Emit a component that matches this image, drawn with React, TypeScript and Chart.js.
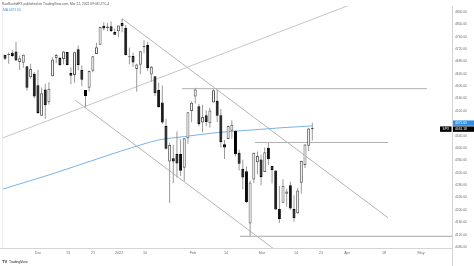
import React, { useEffect, useRef } from "react";
import { Chart, registerables } from "chart.js";

Chart.register(...registerables);

const W = 474;
const H = 266;

// Trading days, Nov 16 2021 .. Mar 21 2022 (index 0 = Jan 3 2022)
const FIRST_INDEX = -32;
const dates = [
  "2021-11-16", "2021-11-17", "2021-11-18", "2021-11-19", "2021-11-22", "2021-11-23", "2021-11-24", "2021-11-26", "2021-11-29", "2021-11-30",
  "2021-12-01", "2021-12-02", "2021-12-03", "2021-12-06", "2021-12-07", "2021-12-08", "2021-12-09", "2021-12-10", "2021-12-13", "2021-12-14",
  "2021-12-15", "2021-12-16", "2021-12-17", "2021-12-20", "2021-12-21", "2021-12-22", "2021-12-23", "2021-12-27", "2021-12-28", "2021-12-29",
  "2021-12-30", "2021-12-31", "2022-01-03", "2022-01-04", "2022-01-05", "2022-01-06", "2022-01-07", "2022-01-10", "2022-01-11", "2022-01-12",
  "2022-01-13", "2022-01-14", "2022-01-18", "2022-01-19", "2022-01-20", "2022-01-21", "2022-01-24", "2022-01-25", "2022-01-26", "2022-01-27",
  "2022-01-28", "2022-01-31", "2022-02-01", "2022-02-02", "2022-02-03", "2022-02-04", "2022-02-07", "2022-02-08", "2022-02-09", "2022-02-10",
  "2022-02-11", "2022-02-14", "2022-02-15", "2022-02-16", "2022-02-17", "2022-02-18", "2022-02-22", "2022-02-23", "2022-02-24", "2022-02-25",
  "2022-02-28", "2022-03-01", "2022-03-02", "2022-03-03", "2022-03-04", "2022-03-07", "2022-03-08", "2022-03-09", "2022-03-10", "2022-03-11",
  "2022-03-14", "2022-03-15", "2022-03-16", "2022-03-17", "2022-03-18", "2022-03-21",
];
const opens = [
  4679.42, 4701.5, 4700.72, 4708.44, 4712.0, 4678.48, 4675.78, 4664.63, 4628.75, 4640.25,
  4602.82, 4504.73, 4589.49, 4548.37, 4631.97, 4690.86, 4691.0, 4687.64, 4710.3, 4642.99,
  4636.46, 4719.13, 4652.5, 4587.9, 4594.96, 4650.36, 4703.96, 4733.99, 4795.49, 4788.64,
  4794.23, 4775.21, 4778.14, 4804.51, 4787.99, 4693.39, 4697.66, 4655.34, 4669.14, 4728.59,
  4733.56, 4637.99, 4632.24, 4588.03, 4547.35, 4471.38, 4356.32, 4366.64, 4380.58, 4380.5,
  4336.19, 4431.79, 4519.57, 4566.39, 4535.41, 4482.79, 4505.75, 4480.02, 4547.0, 4553.24,
  4506.27, 4412.61, 4429.28, 4455.75, 4456.06, 4384.57, 4332.74, 4324.93, 4155.77, 4298.38,
  4354.17, 4363.14, 4322.56, 4401.31, 4342.12, 4327.01, 4202.66, 4223.1, 4252.55, 4279.5,
  4202.75, 4188.82, 4288.14, 4345.11, 4407.34, 4462.4,
];
const highs = [
  4714.95, 4701.5, 4708.8, 4717.75, 4743.83, 4699.39, 4702.87, 4664.63, 4672.95, 4646.02,
  4652.94, 4595.46, 4608.03, 4612.6, 4694.04, 4705.06, 4695.26, 4713.57, 4710.3, 4660.47,
  4712.6, 4731.99, 4666.7, 4587.9, 4651.14, 4697.67, 4740.74, 4791.49, 4807.02, 4804.06,
  4808.93, 4786.83, 4796.64, 4818.62, 4797.7, 4725.01, 4707.95, 4673.02, 4714.13, 4748.83,
  4744.13, 4665.13, 4632.24, 4611.55, 4602.11, 4494.52, 4417.35, 4411.01, 4453.23, 4428.74,
  4432.72, 4516.89, 4550.49, 4595.31, 4542.88, 4539.66, 4521.86, 4531.32, 4590.03, 4588.92,
  4526.33, 4426.22, 4472.77, 4489.55, 4456.06, 4394.6, 4362.12, 4341.51, 4294.73, 4385.34,
  4388.84, 4378.45, 4401.48, 4416.78, 4342.12, 4327.01, 4276.94, 4299.4, 4268.28, 4291.01,
  4247.57, 4271.05, 4358.9, 4412.67, 4465.4, 4481.75,
];
const lows = [
  4679.42, 4684.41, 4672.78, 4694.22, 4682.17, 4652.66, 4659.89, 4585.43, 4625.26, 4560.0,
  4510.27, 4504.73, 4495.12, 4540.51, 4631.97, 4674.52, 4665.98, 4670.24, 4667.6, 4606.52,
  4611.22, 4651.89, 4600.22, 4531.1, 4583.16, 4645.53, 4703.96, 4733.99, 4780.04, 4778.08,
  4775.33, 4765.75, 4758.17, 4774.27, 4699.44, 4671.26, 4662.74, 4582.24, 4638.27, 4706.71,
  4650.29, 4614.75, 4568.7, 4530.2, 4477.95, 4395.34, 4222.62, 4287.11, 4304.8, 4309.5,
  4292.46, 4414.02, 4483.53, 4544.32, 4470.39, 4451.5, 4471.47, 4465.4, 4547.0, 4484.31,
  4401.41, 4364.84, 4429.28, 4429.68, 4373.81, 4327.22, 4267.11, 4221.51, 4114.65, 4286.83,
  4315.12, 4279.54, 4322.56, 4345.56, 4284.98, 4199.85, 4157.87, 4223.1, 4209.8, 4200.49,
  4161.72, 4187.9, 4251.99, 4335.65, 4390.57, 4424.3,
];
const closes = [
  4700.9, 4688.67, 4704.54, 4697.96, 4682.94, 4690.7, 4701.46, 4594.62, 4655.27, 4567.0,
  4513.04, 4577.1, 4538.43, 4591.67, 4686.75, 4701.21, 4667.45, 4712.02, 4668.97, 4634.09,
  4709.85, 4668.67, 4620.64, 4568.02, 4649.23, 4696.56, 4725.79, 4791.19, 4786.35, 4793.06,
  4778.73, 4766.18, 4796.56, 4793.54, 4700.58, 4696.05, 4677.03, 4670.29, 4713.07, 4726.35,
  4659.03, 4662.85, 4577.11, 4532.76, 4482.73, 4397.94, 4410.13, 4356.45, 4349.93, 4326.51,
  4431.85, 4515.55, 4546.54, 4589.38, 4477.44, 4500.53, 4483.87, 4521.54, 4587.18, 4504.08,
  4418.64, 4401.67, 4471.07, 4475.01, 4380.26, 4348.87, 4304.76, 4225.5, 4288.7, 4384.65,
  4373.94, 4306.26, 4386.54, 4363.49, 4328.87, 4201.09, 4170.7, 4277.88, 4259.52, 4204.31,
  4173.11, 4262.45, 4357.86, 4411.67, 4463.12, 4461.18,
];

// Moving average (blue line), values read at selected days
const maIndex = [-32, -19, -5, 6, 11, 18, 27, 36, 45, 53];
const maValues = [4266, 4313, 4368, 4410, 4426, 4437, 4450, 4458, 4466, 4471.65];

// Drawn lines: [index, price] endpoints
const risingLine = [[-31.55, 4433.0], [66, 4875.2]];
const channelTop = [[1, 4818.62], [73.7, 4174.5]];
const channelBottom = [[-11.86, 4555.4], [44, 4060.5]];
const levelTop = [[17.39, 4592], [84.36, 4592]];
const levelMid = [[37.34, 4418], [73.7, 4418]];
const levelLow = [[33.24, 4114.65], [91.19, 4114.65]];

// Axes
const xMin = -31.55;
const xMax = 91.19;
const yMin = 4076.75;
const yMax = 4859.4;
const xTickPos = [-21.98, -13.78, -6.94, 0.16, 7.27, 20.39, 29.41, 39.26, 48.55, 55.38, 62.49, 72.6, 82.72];
const xTickLabels = ["Dec", "13", "21", "2022", "10", "Feb", "14", "Mar", "14", "21", "Apr", "18", "May"];
const yTickValues = [4080, 4120, 4160, 4200, 4240, 4280, 4320, 4360, 4400, 4440, 4480, 4520, 4560, 4600, 4640, 4680, 4720, 4760, 4800, 4840];

const headerText = "RaoRashidFX published on TradingView.com, Mar 22, 2022 09:06 UTC-4";
const maLegend = "MA";
const symbol = "SPX";

const FONT = "'Liberation Sans', Arial, sans-serif";

export default function App() {
  const ref = useRef<HTMLCanvasElement>(null);

  useEffect(() => {
    const canvas = ref.current;
    if (!canvas) return;
    const xs = dates.map((_, k) => FIRST_INDEX + k);
    const up = closes.map((c, k) => c >= opens[k]);
    const lastClose = closes[closes.length - 1];
    const lastMa = maValues[maValues.length - 1];

    const seg = (pts: number[][], color: string) => ({
      type: "line" as const,
      data: pts.map(([x, y]) => ({ x, y })),
      borderColor: color,
      borderWidth: 1,
      pointRadius: 0,
      order: 4,
    });

    const decor = {
      id: "decor",
      afterDraw(chart: any) {
        const { ctx, chartArea } = chart;
        const ys = chart.scales.y;
        ctx.save();
        // separators
        ctx.strokeStyle = "#d4d4d4";
        ctx.lineWidth = 1;
        ctx.beginPath();
        ctx.moveTo(chartArea.right + 0.5, chartArea.top);
        ctx.lineTo(chartArea.right + 0.5, H);
        ctx.moveTo(0, chartArea.bottom + 0.5);
        ctx.lineTo(chartArea.right, chartArea.bottom + 0.5);
        ctx.stroke();
        ctx.strokeStyle = "#ececec";
        ctx.beginPath();
        ctx.moveTo(chartArea.left - 0.5, chartArea.top);
        ctx.lineTo(chartArea.left - 0.5, chartArea.bottom);
        ctx.stroke();

        // header
        ctx.textBaseline = "middle";
        ctx.textAlign = "left";
        ctx.fillStyle = "#555";
        ctx.font = `3.3px ${FONT}`;
        ctx.fillText(headerText, 2, 4);
        ctx.fillStyle = "#4a8fd6";
        ctx.fillText(`${maLegend} ${lastMa.toFixed(2)}`, 3, 10.5);

        // price labels
        const closeY = ys.getPixelForValue(lastClose);
        const maY = Math.min(ys.getPixelForValue(lastMa), closeY - 6);
        const bx = chartArea.right + 1;
        ctx.fillStyle = "#2e8fe6";
        ctx.fillRect(bx, maY - 2.7, W - bx, 5.4);
        ctx.fillStyle = "#000";
        ctx.fillRect(bx, closeY - 2.7, W - bx, 5.4);
        ctx.fillRect(chartArea.right - 12, closeY - 2.7, 11.5, 5.4);
        ctx.fillStyle = "#fff";
        ctx.font = `3.3px ${FONT}`;
        ctx.fillText(lastMa.toFixed(2), bx + 2, maY + 0.2);
        ctx.fillText(lastClose.toFixed(2), bx + 2, closeY + 0.2);
        ctx.textAlign = "center";
        ctx.fillText(symbol, chartArea.right - 6.2, closeY + 0.2);

        // logo
        ctx.textAlign = "left";
        ctx.fillStyle = "#222";
        ctx.font = `bold 4px ${FONT}`;
        ctx.fillText("TV", 2, 262);
        ctx.font = `3.4px ${FONT}`;
        ctx.fillText("TradingView", 9, 262);
        ctx.restore();
      },
    };

    const chart = new Chart(canvas, {
      type: "bar",
      data: {
        datasets: [
          {
            type: "bar",
            data: xs.map((x, k) => ({ x, y: [opens[k], closes[k]] })) as any,
            backgroundColor: up.map((u) => (u ? "#ffffff" : "#000000")),
            borderColor: up.map((u) => (u ? "#5c5c5c" : "#000000")),
            borderWidth: 1,
            borderSkipped: false,
            barThickness: 3,
            grouped: false,
            minBarLength: 1,
            inflateAmount: 0,
            order: 1,
          } as any,
          {
            type: "bar",
            data: xs.map((x, k) => ({ x, y: [lows[k], highs[k]] })) as any,
            backgroundColor: "#9a9a9a",
            borderWidth: 0,
            barThickness: 1,
            grouped: false,
            inflateAmount: 0,
            order: 2,
          } as any,
          {
            type: "line",
            data: maIndex.map((x, k) => ({ x, y: maValues[k] })),
            borderColor: "#7ab3e6",
            borderWidth: 1,
            pointRadius: 0,
            cubicInterpolationMode: "monotone",
            order: 3,
          } as any,
          seg(risingLine, "#c6c6c6"),
          seg(channelTop, "#b4b4b4"),
          seg(channelBottom, "#b4b4b4"),
          seg(levelTop, "#b0b0b0"),
          seg(levelMid, "#b0b0b0"),
          seg(levelLow, "#a8a8a8"),
        ] as any,
      },
      options: {
        responsive: false,
        animation: false,
        devicePixelRatio: 1,
        layout: { padding: { left: 3, top: 6, right: 0, bottom: 0 } },
        plugins: { legend: { display: false }, tooltip: { enabled: false } },
        scales: {
          x: {
            type: "linear",
            min: xMin,
            max: xMax,
            offset: false,
            grid: { display: false, drawTicks: false, offset: false },
            border: { display: false },
            afterBuildTicks: (scale: any) => {
              scale.ticks = xTickPos.map((v) => ({ value: v }));
            },
            afterFit: (scale: any) => {
              scale.height = 18;
            },
            ticks: {
              autoSkip: false,
              maxRotation: 0,
              minRotation: 0,
              padding: 3,
              color: "#6f6f6f",
              font: { size: 3.7, family: FONT },
              callback: (_v: any, i: number) => xTickLabels[i],
            },
          },
          y: {
            type: "linear",
            position: "right",
            min: yMin,
            max: yMax,
            grid: { display: false, drawTicks: false },
            border: { display: false },
            afterBuildTicks: (scale: any) => {
              scale.ticks = yTickValues.map((v) => ({ value: v }));
            },
            afterFit: (scale: any) => {
              scale.width = 22;
            },
            ticks: {
              autoSkip: false,
              padding: 3,
              color: "#6f6f6f",
              font: { size: 3.3, family: FONT },
              callback: (v: any) => Number(v).toFixed(2),
            },
          },
        },
      } as any,
      plugins: [decor],
    });
    return () => chart.destroy();
  }, []);

  return (
    <div style={{ position: "fixed", left: 0, top: 0, width: W, height: H, background: "#fff" }}>
      <canvas ref={ref} width={W} height={H} style={{ display: "block", width: W, height: H }} />
    </div>
  );
}
